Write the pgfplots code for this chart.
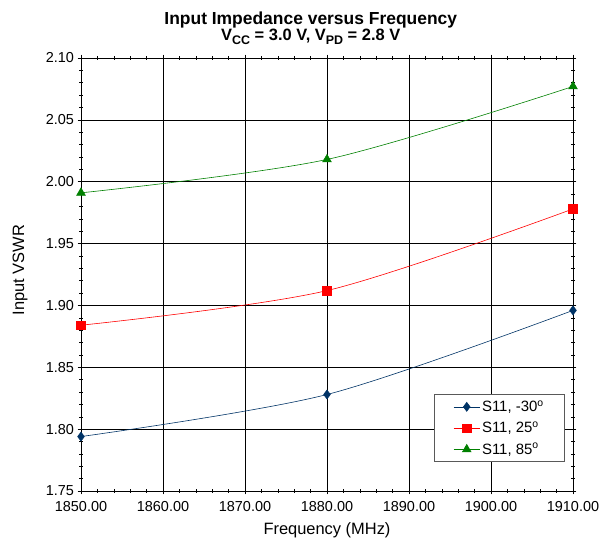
\documentclass[border=0pt]{standalone}
\usepackage{pgfplots}
\pgfplotsset{compat=1.18}
\usepackage{fontspec}
\setmainfont{Liberation Sans}
\definecolor{sblue}{HTML}{003366}
\definecolor{sred}{HTML}{FF0000}
\definecolor{sgreen}{HTML}{008000}
\newcommand{\sub}[1]{\raisebox{-0.25em}{\fontsize{12.5}{13}\selectfont #1}}
\begin{document}
\begin{tikzpicture}
\begin{axis}[
  scale only axis, width=492bp, height=433bp,
  xmin=1850, xmax=1910, ymin=1.75, ymax=2.10,
  xtick={1850,1860,...,1910}, ytick={1.75,1.80,...,2.10},
  minor x tick num=4, minor y tick num=4,
  grid=major, major grid style={black, line width=0.6pt},
  axis line style={black, line width=0.8pt},
  tick style={black, line width=0.6pt},
  major tick length=7pt, minor tick length=4pt,
  tick align=center,
  minor tick style={black, line width=0.5pt},
  xticklabel style={yshift=-3bp, /pgf/number format/.cd, fixed, fixed zerofill, precision=2, 1000 sep={}},
  yticklabel style={/pgf/number format/.cd, fixed, fixed zerofill, precision=2},
  /pgf/number format/assume math mode=true,
  ticklabel style={font=\fontsize{14.5}{16}\selectfont},
  xlabel={Frequency (MHz)}, ylabel={Input VSWR},
  label style={font=\fontsize{16.5}{18}\selectfont},
  xlabel style={at={(axis description cs:0.5,-0.09)}, anchor=center},
  ylabel style={at={(axis description cs:-0.124,0.51)}, anchor=center},
  title={\fontsize{17.5}{21}\selectfont\bfseries Input Impedance versus Frequency\\\fontsize{16.5}{22}\selectfont\bfseries V\sub{CC} = 3.0 V, V\sub{PD} = 2.8 V},
  title style={align=center, at={(axis description cs:0.467,1.055)}, anchor=center},
  legend style={at={(0.984,0.067)}, anchor=south east, draw=gray!70!black, line width=0.8pt, font=\fontsize{15}{17}\selectfont, row sep=5pt, inner xsep=19bp, inner ysep=4bp},
  legend cell align=left,
  legend image code/.code={\draw[mark repeat=2, mark phase=2, #1] plot coordinates {(0bp,0bp) (13bp,0bp) (26bp,0bp)};},
]
\addplot[sblue, line width=0.6pt, smooth, mark=diamond*, mark size=4.5pt, mark options={solid, fill=sblue}] coordinates {(1850,1.794) (1880,1.828) (1910,1.896)};
\addlegendentry{S11, -30\textsuperscript{o}}
\addplot[sred, line width=0.6pt, smooth, mark=square*, mark size=4.3pt, mark options={solid, fill=sred}] coordinates {(1850,1.884) (1880,1.912) (1910,1.978)};
\addlegendentry{S11, 25\textsuperscript{o}}
\addplot[sgreen, line width=0.6pt, smooth, mark=triangle*, mark size=5pt, mark options={solid, fill=sgreen}] coordinates {(1850,1.991) (1880,2.018) (1910,2.077)};
\addlegendentry{S11, 85\textsuperscript{o}}
\end{axis}
\path (current axis.south west) ++(-81bp,-53bp);
\path (current axis.north east) ++(36bp,58bp);
\end{tikzpicture}
\end{document}
